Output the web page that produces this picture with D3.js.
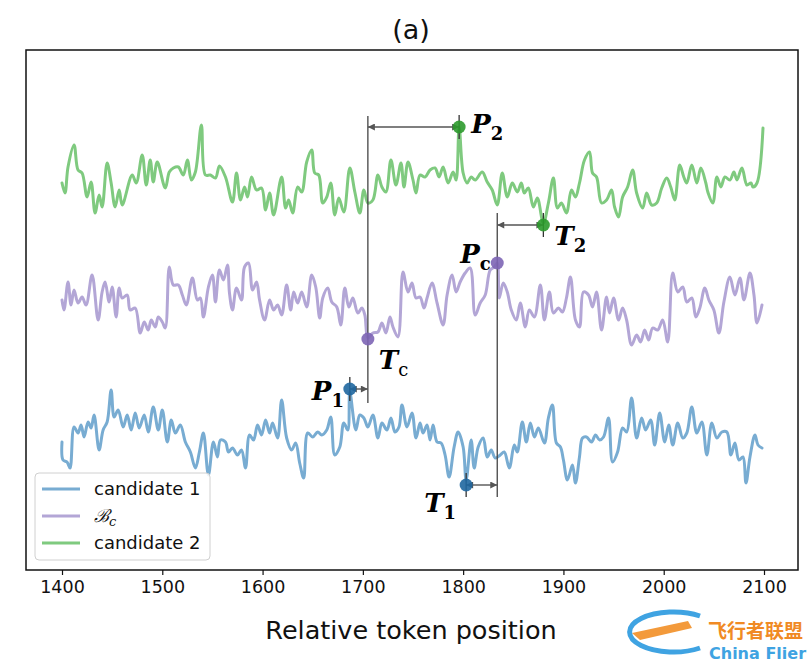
<!DOCTYPE html>
<html><head><meta charset="utf-8">
<script src="https://cdn.jsdelivr.net/npm/d3@7/dist/d3.min.js"></script>
<style>body{margin:0;background:#fff}svg{display:block}</style>
</head><body><svg id="c" width="812" height="670"></svg>
<script>
// ---------- DATA ----------
const xTicks = [1400,1500,1600,1700,1800,1900,2000,2100];
const seriesNames = ["candidate 1","Bc","candidate 2"];

const c2Tokens = [1400,1403,1406,1412,1416,1420,1425,1429,1433,1437,1440,1445,1449,1453,1457,1460,1470,1474,1480,1484,1488,1491,1495,1503,1507,1511,1516,1521,1525,1529,1533,1539,1543,1548,1553,1557,1563,1570,1574,1578,1582,1585,1589,1594,1599,1603,1607,1611,1619,1623,1626,1630,1635,1639,1644,1649,1652,1656,1660,1664,1668,1672,1676,1681,1687,1692,1697,1701,1705,1710,1715,1719,1723,1728,1733,1738,1741,1745,1750,1753,1757,1762,1767,1772,1776,1780,1785,1790,1793,1796,1800,1804,1808,1812,1819,1824,1829,1834,1839,1844,1849,1854,1858,1861,1865,1870,1874,1880,1885,1890,1894,1898,1903,1908,1912,1916,1921,1926,1929,1933,1938,1943,1948,1951,1955,1959,1964,1969,1973,1979,1983,1988,1993,1998,2003,2007,2011,2016,2020,2023,2028,2033,2037,2042,2044,2049,2053,2057,2061,2066,2070,2073,2078,2083,2087,2089,2093,2099];
const c2Values = [38.7,37.7,40.3,42.5,40.0,39.7,37.3,38.8,35.7,37.5,36.3,40.7,38.7,36.3,38.0,36.5,39.5,38.7,41.5,38.5,41.0,38.8,40.8,38.2,39.8,40.2,40.3,39.5,41.0,39.0,39.8,44.5,39.5,39.5,39.2,40.4,39.3,36.8,39.7,37.0,38.3,37.3,39.3,38.0,38.2,36.0,37.7,35.5,39.3,36.2,37.0,35.7,38.3,37.8,40.8,42.0,39.7,39.5,36.7,37.3,38.7,35.5,37.2,35.8,40.2,37.8,35.7,38.0,36.7,37.0,39.5,38.3,37.8,41.0,38.5,40.7,38.3,40.8,39.0,37.7,39.5,39.3,40.0,40.2,39.3,40.3,38.7,39.8,39.0,44.3,39.7,38.7,39.3,39.0,39.8,38.8,38.0,36.5,39.7,37.3,38.7,37.8,38.7,37.7,38.2,36.3,37.2,34.7,36.7,39.2,36.2,36.7,35.7,38.0,37.3,38.7,41.0,41.8,39.7,39.3,36.7,37.0,38.0,36.3,35.3,37.3,38.3,40.0,37.7,36.2,37.7,36.5,36.7,38.2,39.2,38.3,37.0,40.5,39.3,38.7,40.5,38.7,40.2,38.7,37.8,36.7,39.3,38.3,39.3,39.0,39.8,39.0,40.2,38.5,38.7,38.3,38.7,44.2];

const bcTokens = [1400,1402,1406,1409,1412,1416,1420,1424,1430,1436,1440,1443,1447,1450,1454,1457,1460,1465,1468,1473,1478,1482,1486,1489,1493,1496,1500,1503,1507,1511,1516,1520,1524,1530,1535,1538,1541,1546,1550,1553,1557,1561,1565,1567,1570,1574,1579,1582,1586,1590,1594,1597,1602,1607,1611,1615,1619,1624,1628,1631,1635,1639,1644,1649,1653,1657,1660,1665,1669,1674,1678,1682,1686,1690,1695,1699,1702,1705,1710,1715,1719,1723,1727,1730,1735,1740,1745,1749,1753,1757,1761,1764,1769,1774,1780,1784,1789,1793,1797,1802,1807,1812,1817,1822,1827,1831,1834,1836,1840,1844,1848,1853,1857,1862,1866,1871,1877,1881,1886,1890,1895,1899,1903,1907,1912,1916,1920,1925,1929,1933,1938,1943,1946,1950,1955,1959,1963,1968,1973,1977,1981,1985,1989,1994,1999,2004,2009,2014,2019,2023,2028,2032,2036,2041,2045,2050,2055,2060,2066,2071,2076,2080,2086,2090,2093,2098];
const bcValues = [27.0,26.0,28.8,26.5,28.0,26.7,27.3,26.5,29.5,25.0,27.8,28.8,26.8,28.3,25.3,28.2,27.2,27.5,26.0,26.2,23.7,24.8,24.0,25.0,24.3,25.3,24.8,24.2,30.3,28.5,28.5,27.5,26.5,29.2,27.0,27.2,25.3,28.3,29.5,26.8,30.0,29.0,30.5,27.7,26.0,28.2,27.0,30.3,30.7,28.0,28.8,27.0,25.0,27.0,26.0,26.5,25.5,28.5,26.0,27.8,26.7,27.8,26.3,29.5,28.3,25.2,27.2,28.2,26.8,26.3,24.5,28.2,26.3,27.2,25.7,26.2,25.5,23.2,23.7,23.8,24.7,23.7,25.3,24.3,23.3,29.8,27.8,28.7,27.2,27.3,26.2,27.2,28.7,26.7,24.5,27.5,29.5,27.8,28.8,29.7,30.2,25.5,26.7,27.5,30.0,30.3,30.7,27.2,28.7,27.8,26.0,25.0,26.7,24.3,26.0,25.3,28.5,25.0,27.8,25.7,26.2,25.8,27.2,29.3,25.0,24.3,27.8,27.5,26.3,27.8,24.0,27.3,25.7,27.2,25.0,26.2,25.0,22.5,23.5,22.8,24.0,23.0,24.2,24.0,25.0,22.8,29.7,27.8,28.3,26.8,27.2,25.3,26.2,28.2,27.0,26.0,23.7,26.8,29.3,27.5,29.2,27.0,29.7,27.5,24.7,26.5];

const c1Tokens = [1400,1401,1405,1408,1412,1416,1419,1422,1426,1429,1432,1437,1441,1445,1449,1452,1456,1461,1465,1469,1473,1477,1482,1486,1491,1496,1500,1505,1509,1513,1518,1523,1528,1533,1537,1541,1546,1551,1555,1558,1563,1566,1570,1575,1579,1583,1587,1591,1595,1599,1603,1607,1610,1615,1619,1624,1629,1633,1637,1641,1645,1650,1655,1659,1664,1668,1672,1677,1681,1685,1687,1693,1697,1701,1705,1710,1715,1719,1724,1728,1732,1736,1739,1744,1749,1753,1757,1760,1764,1767,1770,1774,1778,1782,1786,1791,1795,1800,1803,1808,1811,1815,1820,1824,1828,1832,1837,1841,1846,1851,1854,1859,1863,1867,1871,1875,1881,1885,1889,1893,1897,1900,1904,1909,1912,1916,1919,1923,1928,1932,1936,1940,1945,1949,1954,1959,1963,1968,1973,1978,1982,1987,1991,1996,2001,2005,2009,2014,2019,2023,2028,2033,2038,2043,2048,2053,2058,2063,2067,2071,2075,2079,2082,2086,2091,2094,2098];
const c1Values = [12.8,11.0,10.8,10.2,14.3,13.7,14.5,13.3,14.8,14.2,15.5,12.0,14.0,14.8,18.0,15.3,16.0,14.3,15.5,14.0,15.7,14.2,15.5,13.8,16.3,14.0,16.0,12.8,15.0,13.7,14.5,12.8,11.8,10.2,11.8,13.7,9.5,12.8,11.3,13.0,12.8,11.8,12.2,11.5,12.0,10.2,13.5,13.0,14.5,13.5,15.0,13.7,14.7,13.2,17.0,13.2,12.0,12.7,10.7,9.2,13.7,13.3,13.8,13.5,14.0,15.3,11.5,12.3,14.7,14.0,17.8,14.0,15.5,15.2,14.3,15.5,13.2,14.7,14.0,15.2,13.8,14.3,16.5,14.3,15.7,13.2,14.7,13.7,14.5,13.0,14.5,12.8,12.7,11.5,9.3,12.3,13.8,12.3,9.0,13.0,10.2,12.3,13.2,11.3,12.0,11.2,11.5,11.8,10.2,12.5,11.8,14.8,12.8,14.7,13.3,14.2,12.7,15.2,16.5,12.7,12.3,11.0,9.0,10.5,8.7,11.3,13.2,13.3,12.8,13.5,13.0,13.3,15.2,10.8,11.8,14.2,13.8,17.2,13.2,15.2,14.0,15.0,12.5,15.7,12.8,14.5,12.5,14.7,13.2,13.7,16.3,13.7,14.8,11.5,14.7,13.2,13.8,13.8,11.5,12.7,11.0,11.3,8.7,11.3,13.5,12.5,12.2];

// annotation points: [token, value]
const pointP2 = [1796, 44.3];
const pointT2 = [1880, 34.5];
const pointPc = [1834, 30.7];
const pointTc = [1705, 23.1];
const pointP1 = [1687, 18.1];
const pointT1 = [1803, 8.5];
const vlineA = {token:1705, from:16.7, to:45.4};
const vlineB = {token:1834, from:7.3, to:35.7};

// ---------- CHART ----------
const svg = d3.select("#c");
const L=26, R=798, T=50, B=570;
const x = d3.scaleLinear().domain([1364.1, 2133.9]).range([L, R]);
const y = d3.scaleLinear().domain([0, 52]).range([B, T]);

const colors = {c1:"#78acd2", bc:"#b3a6d6", c2:"#7fca7f"};
const dotColors = {c1:"#1f67a0", bc:"#7d65b5", c2:"#2c9a2c"};

// title
svg.append("text").attr("x",411).attr("y",39).attr("text-anchor","middle")
  .attr("font-family","DejaVu Sans").attr("font-size",27).attr("fill","#111").text("(a)");

// lines
const line = d3.line().x(d=>x(d[0])).y(d=>y(d[1])).curve(d3.curveCatmullRom.alpha(0.5));
const zip = (a,b)=>a.map((t,i)=>[t,b[i]]);
const g = svg.append("g");
[[c1Tokens,c1Values,colors.c1],[bcTokens,bcValues,colors.bc],[c2Tokens,c2Values,colors.c2]].forEach(([tk,vl,col])=>{
  g.append("path").datum(zip(tk,vl)).attr("d",line).attr("fill","none")
    .attr("stroke",col).attr("stroke-width",3).attr("stroke-linejoin","round").attr("stroke-linecap","round");
});

// arrow markers
const defs = svg.append("defs");
defs.append("marker").attr("id","ah").attr("viewBox","0 0 10 10").attr("refX",10).attr("refY",5)
  .attr("markerWidth",10).attr("markerHeight",7).attr("markerUnits","userSpaceOnUse").attr("orient","auto-start-reverse")
  .append("path").attr("d","M0,0 L10,5 L0,10 z").attr("fill","#555");

const ann = svg.append("g");
// vertical lines
[vlineA, vlineB].forEach(v=>{
  ann.append("line").attr("x1",x(v.token)).attr("x2",x(v.token)).attr("y1",y(v.from)).attr("y2",y(v.to))
    .attr("stroke","#444").attr("stroke-width",1.3);
});
// arrows
function arrow(t0,t1,v){
  ann.append("line").attr("x1",x(t0)).attr("x2",x(t1)).attr("y1",y(v)).attr("y2",y(v))
    .attr("stroke","#555").attr("stroke-width",1.4)
    .attr("marker-start","url(#ah)").attr("marker-end","url(#ah)");
}
arrow(vlineA.token, pointP2[0], pointP2[1]);
arrow(vlineB.token, pointT2[0], pointT2[1]);
arrow(pointP1[0], vlineA.token, pointP1[1]);
arrow(pointT1[0], vlineB.token, pointT1[1]);
// small ticks through candidate points
[pointP2,pointT2,pointP1,pointT1].forEach(p=>{
  ann.append("line").attr("x1",x(p[0])).attr("x2",x(p[0])).attr("y1",y(p[1]-1.2)).attr("y2",y(p[1]+1.2))
    .attr("stroke","#333").attr("stroke-width",1.3);
});
// dots
[[pointP2,dotColors.c2],[pointT2,dotColors.c2],[pointPc,dotColors.bc],[pointTc,dotColors.bc],[pointP1,dotColors.c1],[pointT1,dotColors.c1]].forEach(([p,c])=>{
  ann.append("circle").attr("cx",x(p[0])).attr("cy",y(p[1])).attr("r",6.5).attr("fill",c).attr("fill-opacity",0.9);
});
// labels
function label(p,dx,dy,main,sub,subBold){
  const t = ann.append("text").attr("x",x(p[0])+dx).attr("y",y(p[1])+dy)
    .attr("font-family","DejaVu Serif").attr("fill","#000");
  t.append("tspan").attr("font-size",26).attr("font-weight","bold").attr("font-style","italic").text(main);
  t.append("tspan").attr("font-size",18).attr("font-weight",subBold?"bold":"normal").attr("dy",7).text(sub);
}
label(pointP2, 12, 6, "P", "2", true);
label(pointT2, 11, 20, "T", "2", true);
label(pointPc, -37, 0, "P", "c", true);
label(pointTc, 11, 30, "T", "c", false);
label(pointP1, -38, 11, "P", "1", true);
label(pointT1, -42, 27, "T", "1", true);

// frame
svg.append("rect").attr("x",L).attr("y",T).attr("width",R-L).attr("height",B-T)
  .attr("fill","none").attr("stroke","#111").attr("stroke-width",1.5);

// x axis
const ax = svg.append("g").attr("transform",`translate(0,${B})`)
  .call(d3.axisBottom(x).tickValues(xTicks).tickSize(5).tickPadding(6).tickFormat(d3.format("d")));
ax.select(".domain").remove();
ax.selectAll("text").attr("font-family","DejaVu Sans").attr("font-size",17.5).attr("fill","#111");
ax.selectAll("line").attr("stroke","#111").attr("stroke-width",1.2);

svg.append("text").attr("x",411).attr("y",639).attr("text-anchor","middle")
  .attr("font-family","DejaVu Sans").attr("font-size",25.5).attr("fill","#111").text("Relative token position");

// legend
const lg = svg.append("g");
lg.append("rect").attr("x",35).attr("y",473).attr("width",175).attr("height",87).attr("rx",4)
  .attr("fill","#fff").attr("fill-opacity",0.85).attr("stroke","#d0d0d0").attr("stroke-width",1);
const legendItems = [[seriesNames[0],colors.c1],[seriesNames[1],colors.bc],[seriesNames[2],colors.c2]];
legendItems.forEach(([name,col],i)=>{
  const cy = 489 + i*27;
  lg.append("line").attr("x1",42).attr("x2",80).attr("y1",cy).attr("y2",cy).attr("stroke",col).attr("stroke-width",3);
  const t = lg.append("text").attr("x",94).attr("y",cy+6).attr("font-family","DejaVu Sans").attr("font-size",18).attr("fill","#111");
  if(name==="Bc"){
    t.append("tspan").attr("font-family","DejaVu Serif").attr("font-style","italic").text("ℬ");
    t.append("tspan").attr("font-family","DejaVu Serif").attr("font-style","italic").attr("font-size",13).attr("dy",4).text("c");
  } else t.text(name);
});

// watermark
const wm = svg.append("g");
wm.append("path").attr("d","M700,616 A44,20 0 1,0 700,648").attr("fill","none").attr("stroke","#3fa3e2").attr("stroke-width",5);
wm.append("path").attr("d","M632,633 L688,621 L692,628 L640,640 Z").attr("fill","#f39a3b");
wm.append("text").attr("x",708).attr("y",638).attr("font-family","Noto Sans CJK SC").attr("font-size",19).attr("font-weight","bold").attr("fill","#f08a24").text("飞行者联盟");
wm.append("text").attr("x",709).attr("y",659).attr("font-family","DejaVu Sans").attr("font-size",16).attr("font-weight","bold").attr("fill","#3fa3e2").text("China Flier");
</script></body></html>
